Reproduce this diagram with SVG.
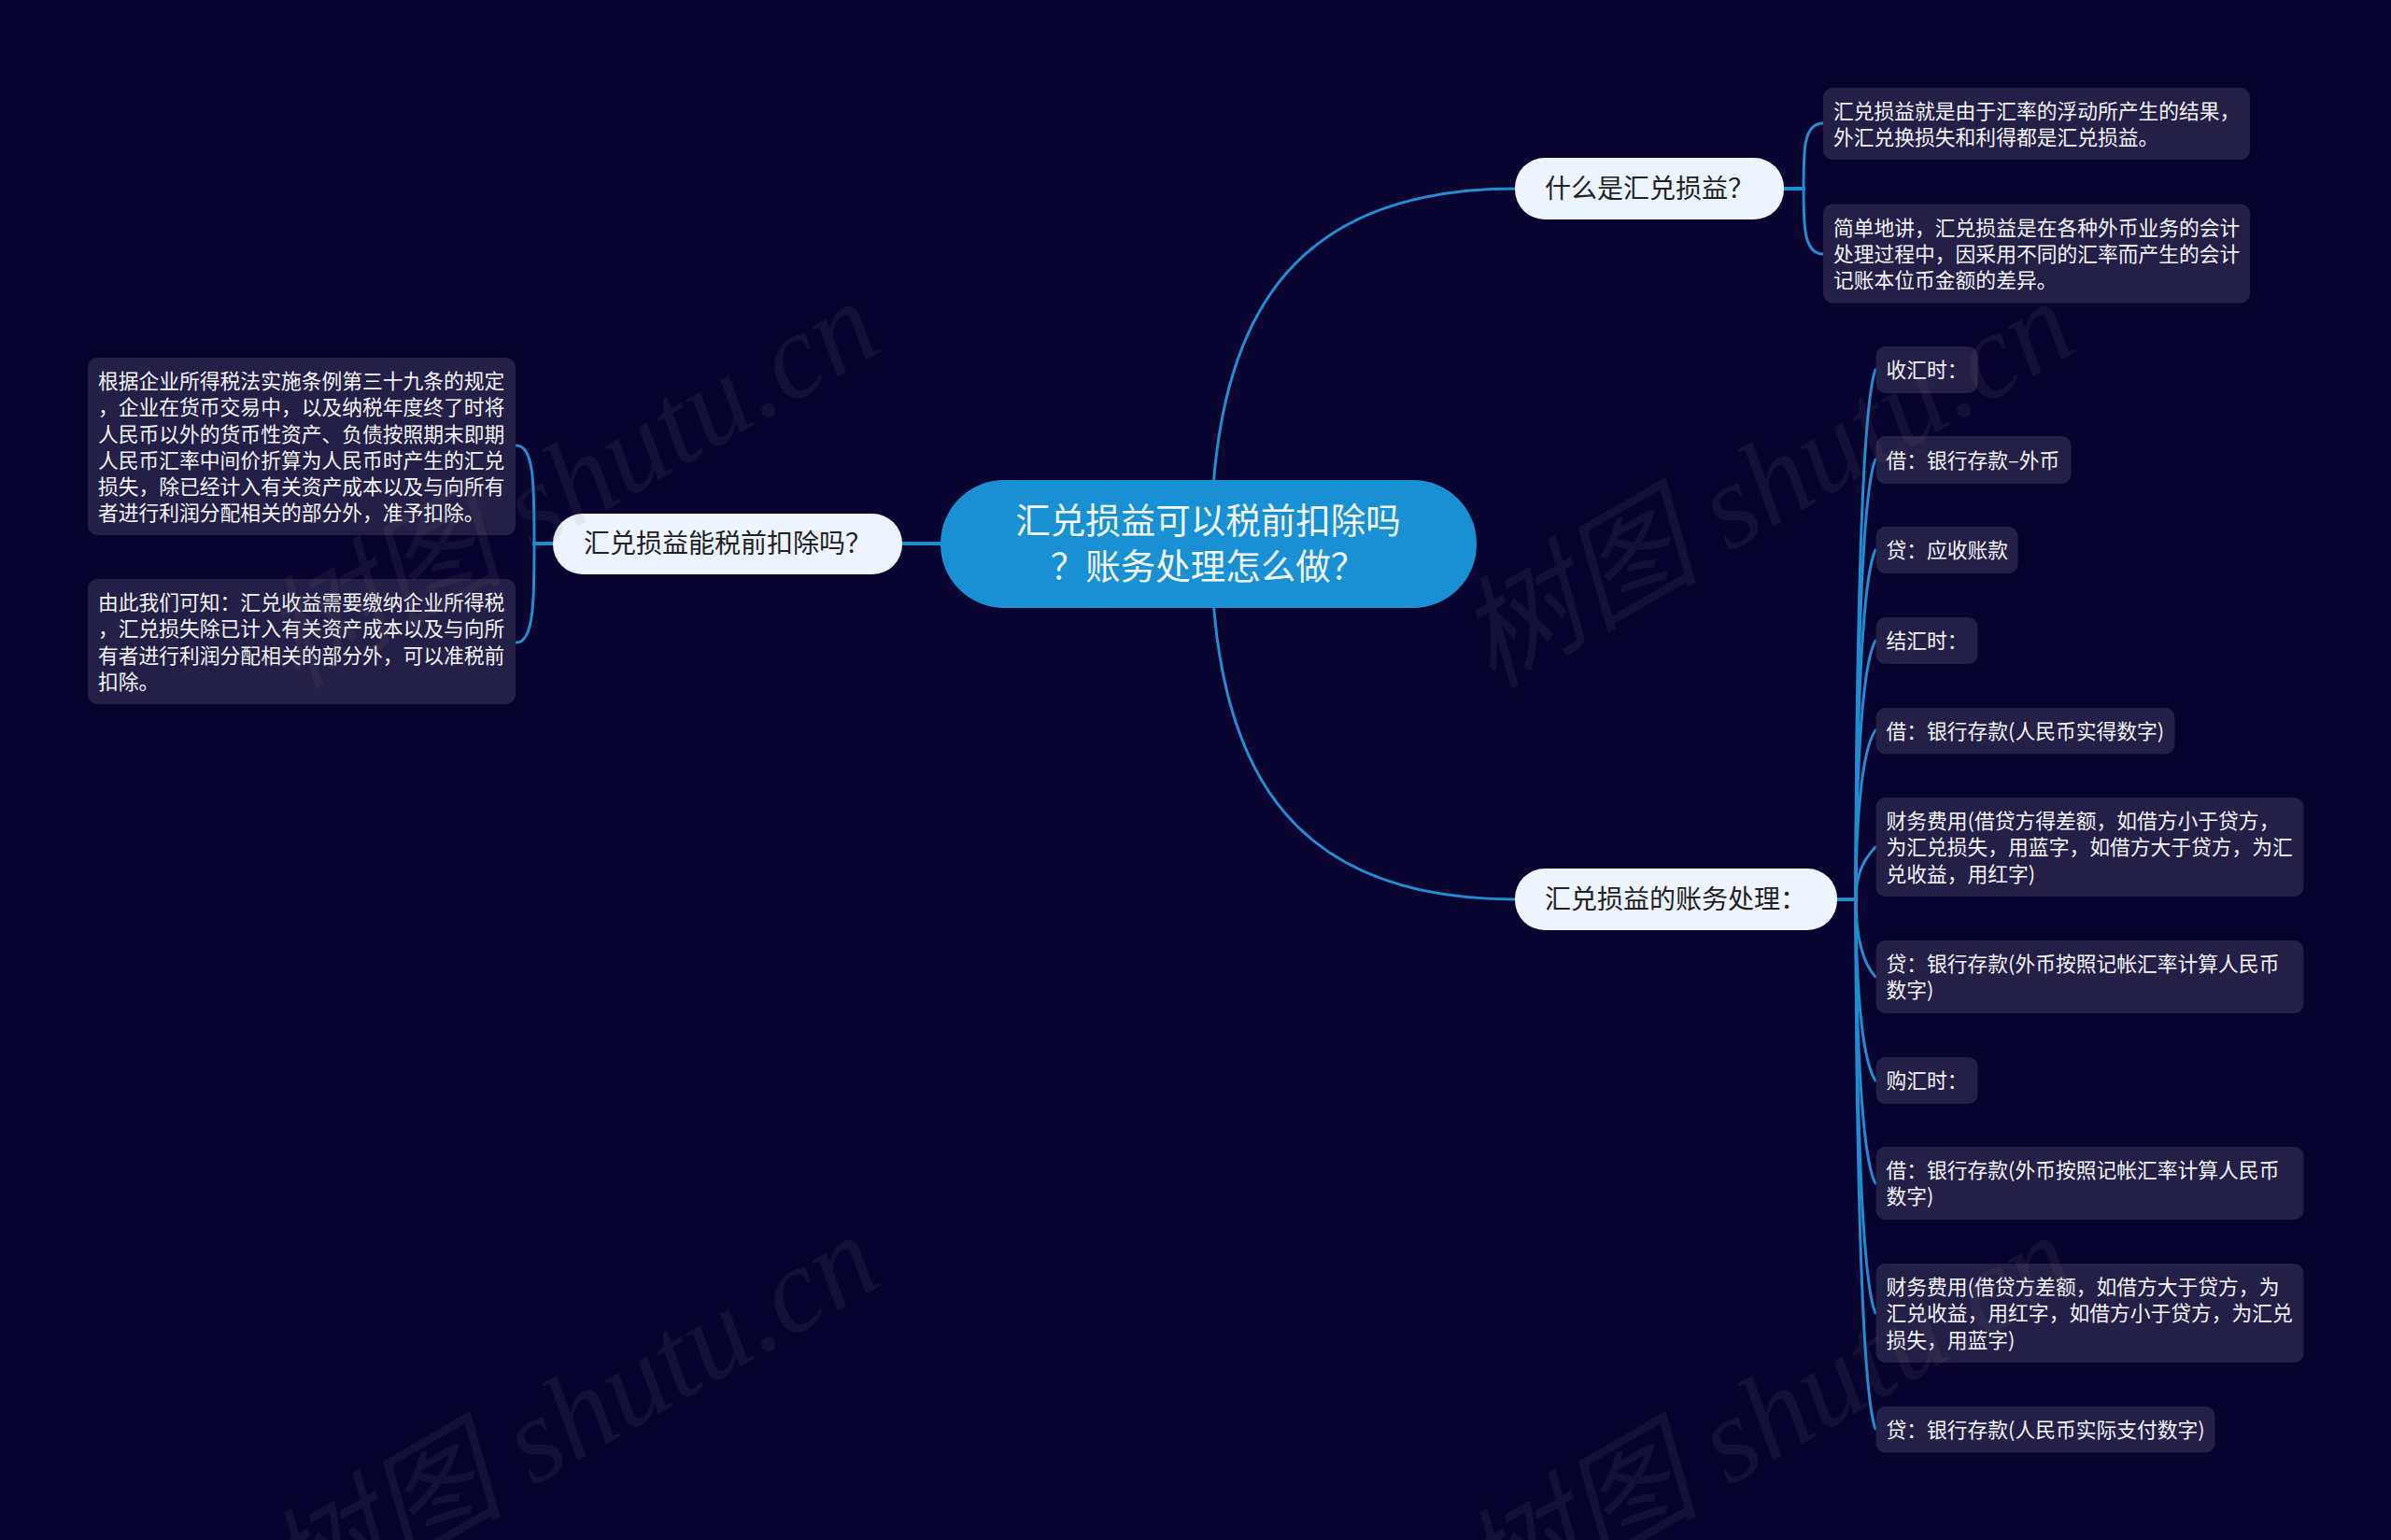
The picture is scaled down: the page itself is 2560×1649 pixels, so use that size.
<svg xmlns="http://www.w3.org/2000/svg" width="2560" height="1649" viewBox="0 0 2560 1649">
<defs>
<style>
text{font-family:"Noto Sans CJK SC","Noto Sans",sans-serif}
.box{fill:#241f47}
.leaf{font-size:21.77px;fill:#f4f4f8}
.pill{fill:#eef4fd}
.topic{font-size:28px;fill:#222}
.root{fill:#1a90d4}
.roott{font-size:37.5px;fill:#f4f9fd;text-anchor:middle}
.c{fill:none;stroke:#1f8dd0;stroke-width:3;stroke-linecap:round}
.wm{font-size:130px;font-family:"Liberation Serif","Noto Sans CJK SC",serif;font-style:italic;fill:#808080;fill-opacity:.1}
</style>
<text id="wmt" class="wm" transform="rotate(-30)">树图 shutu.cn</text>
</defs>
<rect width="2560" height="1649" fill="#07032e"/>
<g id="connectors">
<path class="c" d="M1297 582C1297 320 1400 202 1622 202"/>
<path class="c" d="M1297 582C1297 845 1400 963 1622 963"/>
<path class="c" style="stroke-width:4" d="M966 582H1007"/>
<path class="c" style="stroke-width:4" d="M572 582H592"/>
<path class="c" d="M572 582C572 520 572 477 553 477"/>
<path class="c" d="M572 582C572 640 572 688 553 688"/>
<path class="c" style="stroke-width:4" d="M1910 202H1931"/>
<path class="c" d="M1931 202C1931 160 1931 132 1952 132"/>
<path class="c" d="M1931 202C1931 240 1931 272 1952 272"/>
<path class="c" style="stroke-width:4" d="M1967 963H1987"/>
<path class="c" d="M1987 963C1987 736 1992 438 2008 396"/>
<path class="c" d="M1987 963C1987 775 1992 530 2008 492"/>
<path class="c" d="M1987 963C1987 813 1992 622 2008 589"/>
<path class="c" d="M1987 963C1987 852 1992 714 2008 686"/>
<path class="c" d="M1987 963C1987 891 1992 805 2008 782"/>
<path class="c" d="M1987 963C1987 941 1992 924 2008 907"/>
<path class="c" d="M1987 963C1987 996 1992 1028 2008 1046"/>
<path class="c" d="M1987 963C1987 1041 1992 1133 2008 1157"/>
<path class="c" d="M1987 963C1987 1085 1992 1238 2008 1267"/>
<path class="c" d="M1987 963C1987 1140 1992 1370 2008 1406"/>
<path class="c" d="M1987 963C1987 1190 1992 1488 2008 1530"/>
</g>
<g id="root"><rect class="root" x="1007" y="514" width="574" height="137" rx="68" ry="68"/>
<text class="roott" x="1293.5" y="570.5">汇兑损益可以税前扣除吗</text>
<text class="roott" x="1293.5" y="619.5">？账务处理怎么做？</text></g>
<g id="topic1"><rect class="pill" x="592" y="550" width="374" height="65" rx="32"/><text class="topic" x="625" y="592">汇兑损益能税前扣除吗？</text></g>
<g id="topic2"><rect class="pill" x="1622" y="169" width="288" height="66" rx="32"/><text class="topic" x="1654" y="212">什么是汇兑损益？</text></g>
<g id="topic3"><rect class="pill" x="1622" y="930" width="345" height="66" rx="32"/><text class="topic" x="1654" y="973">汇兑损益的账务处理：</text></g>
<g id="n1"><rect class="box" x="94" y="383" width="458" height="190" rx="10"/>
<text class="leaf" x="105" y="416">根据企业所得税法实施条例第三十九条的规定</text>
<text class="leaf" x="105" y="444">，企业在货币交易中，以及纳税年度终了时将</text>
<text class="leaf" x="105" y="472.500">人民币以外的货币性资产、负债按照期末即期</text>
<text class="leaf" x="105" y="500.500">人民币汇率中间价折算为人民币时产生的汇兑</text>
<text class="leaf" x="105" y="528.500">损失，除已经计入有关资产成本以及与向所有</text>
<text class="leaf" x="105" y="557">者进行利润分配相关的部分外，准予扣除。</text></g>
<g id="n2"><rect class="box" x="94" y="620" width="458" height="134" rx="10"/>
<text class="leaf" x="105" y="653">由此我们可知：汇兑收益需要缴纳企业所得税</text>
<text class="leaf" x="105" y="681">，汇兑损失除已计入有关资产成本以及与向所</text>
<text class="leaf" x="105" y="709.500">有者进行利润分配相关的部分外，可以准税前</text>
<text class="leaf" x="105" y="737.500">扣除。</text></g>
<g id="n3"><rect class="box" x="1952" y="94" width="457" height="77" rx="10"/>
<text class="leaf" x="1963" y="127">汇兑损益就是由于汇率的浮动所产生的结果，</text>
<text class="leaf" x="1963" y="155">外汇兑换损失和利得都是汇兑损益。</text></g>
<g id="n4"><rect class="box" x="1952" y="218.500" width="457" height="106" rx="10"/>
<text class="leaf" x="1963" y="251.500">简单地讲，汇兑损益是在各种外币业务的会计</text>
<text class="leaf" x="1963" y="279.500">处理过程中，因采用不同的汇率而产生的会计</text>
<text class="leaf" x="1963" y="308">记账本位币金额的差异。</text></g>
<g id="n5"><rect class="box" x="2008.500" y="371" width="109" height="50" rx="10"/><text class="leaf" x="2019.500" y="404">收汇时：</text></g>
<g id="n6"><rect class="box" x="2008.500" y="467" width="209" height="51" rx="10"/><text class="leaf" x="2019.500" y="500.500">借：银行存款–外币</text></g>
<g id="n7"><rect class="box" x="2008.500" y="564" width="152" height="50" rx="10"/><text class="leaf" x="2019.500" y="597">贷：应收账款</text></g>
<g id="n8"><rect class="box" x="2008.500" y="661" width="109" height="50" rx="10"/><text class="leaf" x="2019.500" y="694">结汇时：</text></g>
<g id="n9"><rect class="box" x="2008.500" y="758" width="320" height="49.500" rx="10"/><text class="leaf" x="2019.500" y="791">借：银行存款(人民币实得数字)</text></g>
<g id="n10"><rect class="box" x="2008.500" y="854" width="458" height="106" rx="10"/>
<text class="leaf" x="2019.500" y="887">财务费用(借贷方得差额，如借方小于贷方，</text>
<text class="leaf" x="2019.500" y="915">为汇兑损失，用蓝字，如借方大于贷方，为汇</text>
<text class="leaf" x="2019.500" y="943.500">兑收益，用红字)</text></g>
<g id="n11"><rect class="box" x="2008.500" y="1007" width="458" height="78" rx="10"/>
<text class="leaf" x="2019.500" y="1040">贷：银行存款(外币按照记帐汇率计算人民币</text>
<text class="leaf" x="2019.500" y="1068">数字)</text></g>
<g id="n12"><rect class="box" x="2008.500" y="1132" width="109" height="50" rx="10"/><text class="leaf" x="2019.500" y="1165">购汇时：</text></g>
<g id="n13"><rect class="box" x="2008.500" y="1228" width="458" height="78" rx="10"/>
<text class="leaf" x="2019.500" y="1261">借：银行存款(外币按照记帐汇率计算人民币</text>
<text class="leaf" x="2019.500" y="1289">数字)</text></g>
<g id="n14"><rect class="box" x="2008.500" y="1353" width="458" height="106" rx="10"/>
<text class="leaf" x="2019.500" y="1386">财务费用(借贷方差额，如借方大于贷方，为</text>
<text class="leaf" x="2019.500" y="1414">汇兑收益，用红字，如借方小于贷方，为汇兑</text>
<text class="leaf" x="2019.500" y="1442.500">损失，用蓝字)</text></g>
<g id="n15"><rect class="box" x="2008.500" y="1506" width="363" height="49.500" rx="10"/><text class="leaf" x="2019.500" y="1539">贷：银行存款(人民币实际支付数字)</text></g>
<g id="watermarks">
<text class="wm" transform="translate(317 738) rotate(-30)">树图 shutu.cn</text>
<text class="wm" transform="translate(1597 738) rotate(-30)">树图 shutu.cn</text>
<text class="wm" transform="translate(317 1738) rotate(-30)">树图 shutu.cn</text>
<text class="wm" transform="translate(1597 1738) rotate(-30)">树图 shutu.cn</text>
</g>
</svg>
